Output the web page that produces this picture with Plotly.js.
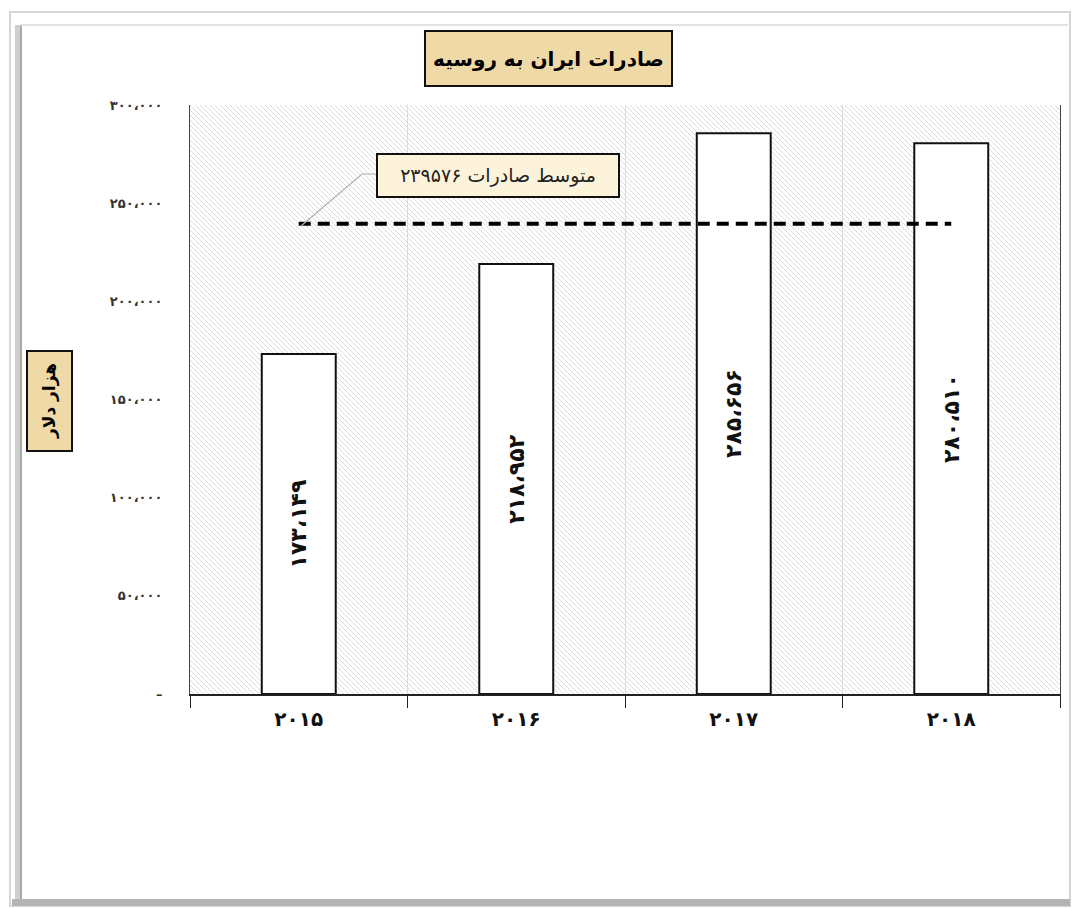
<!DOCTYPE html>
<html>
<head>
<meta charset="utf-8">
<script src="https://cdn.plot.ly/plotly-3.0.1.min.js"></script>
<style>
html,body{margin:0;padding:0;background:#fff;}
#chart{width:1072px;height:908px;}
</style>
</head>
<body>
<div id="chart"></div>
<script>
// ---- data ----
const years = ['2015', '2016', '2017', '2018'];
const yearLabels = ['۲۰۱۵', '۲۰۱۶', '۲۰۱۷', '۲۰۱۸'];
const exportsValues = [173149, 218952, 285656, 280510];
const exportsLabels = ['۱۷۳،۱۴۹', '۲۱۸،۹۵۲', '۲۸۵،۶۵۶', '۲۸۰،۵۱۰'];
const meanValue = 239576;
const meanLine = [239576, 239576, 239576, 239576];
const meanText = 'متوسط صادرات ۲۳۹۵۷۶';
const yTickVals = [0, 50000, 100000, 150000, 200000, 250000, 300000];
const yTickText = ['–', '۵۰،۰۰۰', '۱۰۰،۰۰۰', '۱۵۰،۰۰۰', '۲۰۰،۰۰۰', '۲۵۰،۰۰۰', '۳۰۰،۰۰۰'];
const chartTitle = 'صادرات ایران به روسیه';
const yTitle = 'هزار دلار';

// ---- geometry helpers (pixel -> paper) ----
const W = 1072, H = 908;
const M = {l: 190, r: 12, t: 105, b: 214};
const PW = W - M.l - M.r, PH = H - M.t - M.b;
const px = x => (x - M.l) / PW;
const py = y => (H - M.b - y) / PH;

// hatch background
const hatchSvg = `<svg xmlns="http://www.w3.org/2000/svg" width="${PW}" height="${PH}">
<defs><pattern id="h" width="5" height="5" patternUnits="userSpaceOnUse">
<path d="M-1,-1 L6,6 M-1,4 L1,6 M4,-1 L6,1" stroke="#d8d8d8" stroke-width="0.9"/>
</pattern></defs><rect width="100%" height="100%" fill="#ffffff"/><rect width="100%" height="100%" fill="url(#h)"/></svg>`;
const hatchSrc = 'data:image/svg+xml;charset=utf-8,' + encodeURIComponent(hatchSvg);

const FONT = 'DejaVu Sans, Noto Sans, sans-serif';

const traces = [
  {
    type: 'bar',
    x: years,
    y: exportsValues,
    text: exportsLabels,
    textposition: 'inside',
    insidetextanchor: 'middle',
    textangle: -90,
    constraintext: 'none',
    textfont: {family: FONT, size: 22, color: '#111', weight: 'bold'},
    width: 0.34,
    marker: {color: '#ffffff', line: {color: '#111111', width: 2}},
    hoverinfo: 'x+y',
    showlegend: false
  },
  {
    type: 'scatter',
    mode: 'lines',
    x: years,
    y: meanLine,
    line: {color: '#000000', width: 4, dash: '12px,7px'},
    hoverinfo: 'y',
    showlegend: false
  }
];

const layout = {
  width: W, height: H,
  margin: M,
  paper_bgcolor: '#ffffff',
  plot_bgcolor: 'rgba(0,0,0,0)',
  font: {family: FONT, color: '#111'},
  showlegend: false,
  bargap: 0.66,
  xaxis: {
    type: 'category',
    tickvals: years,
    ticktext: yearLabels,
    tickson: 'boundaries',
    ticks: 'outside',
    ticklen: 12,
    tickcolor: '#222',
    tickwidth: 1,
    ticklabelstandoff: 6,
    showgrid: true,
    gridcolor: '#dcdcdc',
    gridwidth: 1,
    showline: true,
    linecolor: '#222',
    linewidth: 2,
    tickfont: {family: FONT, size: 20, color: '#111', weight: 'bold'},
    fixedrange: true,
    zeroline: false
  },
  yaxis: {
    range: [0, 300000],
    tickvals: yTickVals,
    ticktext: yTickText,
    ticks: 'outside',
    ticklen: 24,
    tickcolor: 'rgba(0,0,0,0)',
    showgrid: false,
    zeroline: false,
    showline: true,
    mirror: true,
    linecolor: '#444',
    linewidth: 1,
    tickfont: {family: FONT, size: 13, color: '#333', weight: 'bold'},
    fixedrange: true
  },
  images: [{
    source: hatchSrc,
    xref: 'paper', yref: 'paper',
    x: 0, y: 1, sizex: 1, sizey: 1,
    xanchor: 'left', yanchor: 'top',
    sizing: 'stretch', layer: 'below'
  }],
  shapes: [
    // outer frame
    {type: 'rect', xref: 'paper', yref: 'paper', x0: px(10), x1: px(1070), y0: py(906), y1: py(12),
     line: {color: '#d6d6d6', width: 2}, fillcolor: 'rgba(0,0,0,0)', layer: 'below'},
    // inner top line
    {type: 'line', xref: 'paper', yref: 'paper', x0: px(20), x1: px(1068), y0: py(25), y1: py(25),
     line: {color: '#e2e2e2', width: 2}},
    // inner left bevel
    {type: 'rect', xref: 'paper', yref: 'paper', x0: px(15), x1: px(22), y0: py(902), y1: py(25),
     line: {width: 0}, fillcolor: '#cfcfcf'},
    {type: 'line', xref: 'paper', yref: 'paper', x0: px(21), x1: px(21), y0: py(900), y1: py(26),
     line: {color: '#a9a9a9', width: 2}},
    // bottom bevel
    {type: 'rect', xref: 'paper', yref: 'paper', x0: px(12), x1: px(1070), y0: py(906), y1: py(899),
     line: {width: 0}, fillcolor: '#b4b4b4'},
    // leader line for mean label
    {type: 'path', xref: 'paper', yref: 'paper',
     path: `M ${px(301)},${py(226)} L ${px(362)},${py(174)} L ${px(378)},${py(174)}`,
     line: {color: '#b0b0b0', width: 1.2}}
  ],
  annotations: [
    {
      xref: 'paper', yref: 'paper', x: px(548), y: py(58),
      xanchor: 'center', yanchor: 'middle',
      text: '<b>' + chartTitle + '</b>',
      showarrow: false,
      font: {family: FONT, size: 20, color: '#000'},
      bgcolor: '#efd9a6', bordercolor: '#111', borderwidth: 2,
      borderpad: 7, height: 39
    },
    {
      xref: 'paper', yref: 'paper', x: px(49), y: py(401),
      xanchor: 'center', yanchor: 'middle',
      text: '<b>' + yTitle + '</b>',
      textangle: -90,
      showarrow: false,
      font: {family: FONT, size: 17, color: '#000'},
      bgcolor: '#efd9a6', bordercolor: '#111', borderwidth: 2,
      borderpad: 11
    },
    {
      xref: 'paper', yref: 'paper', x: px(498), y: py(175),
      xanchor: 'center', yanchor: 'middle',
      text: meanText,
      showarrow: false,
      font: {family: FONT, size: 19, color: '#222'},
      bgcolor: '#fdf2da', bordercolor: '#111', borderwidth: 2,
      borderpad: 9, width: 222
    }
  ]
};

Plotly.newPlot('chart', traces, layout, {displayModeBar: false, staticPlot: true});
</script>
</body>
</html>
